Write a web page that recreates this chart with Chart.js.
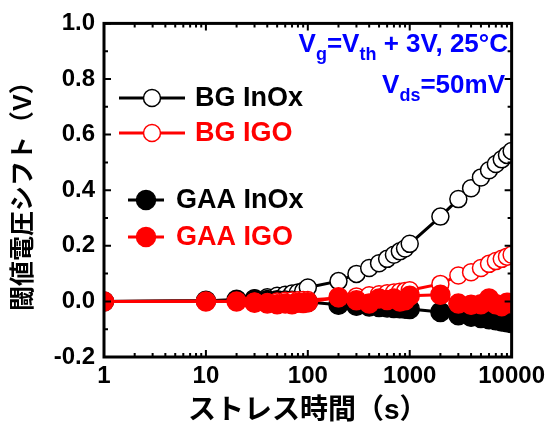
<!DOCTYPE html>
<html>
<head>
<meta charset="utf-8">
<script src="https://cdn.jsdelivr.net/npm/chart.js@4"></script>
<style>
  body { margin: 0; background: #fff; }
  canvas { display: block; }
</style>
</head>
<body>
<canvas id="myChart" width="550" height="430"></canvas>
<script>
// stress time (s)
const times = [1, 10, 20, 30, 40, 50, 60, 70, 80, 90, 100,
  200, 300, 400, 500, 600, 700, 800, 900, 1000,
  2000, 3000, 4000, 5000, 6000, 7000, 8000, 9000, 10000];

// threshold voltage shift (V)
const bgInOx = [0, 0.002, 0.005, 0.01, 0.015, 0.02, 0.024, 0.028, 0.032, 0.037, 0.05,
  0.073, 0.099, 0.12, 0.137, 0.153, 0.168, 0.18, 0.19, 0.207,
  0.305, 0.368, 0.407, 0.446, 0.472, 0.494, 0.511, 0.527, 0.541];
const bgIgo = [0, 0.001, 0, 0, -0.002, 0, 0.002, 0.003, 0.004, 0.005, 0.005,
  0.012, 0.018, 0.022, 0.026, 0.029, 0.032, 0.035, 0.037, 0.04,
  0.063, 0.093, 0.105, 0.12, 0.135, 0.145, 0.153, 0.161, 0.168];
const gaaInOx = [0, 0.002, 0.006, 0.008, 0.005, 0.004, 0.003, 0.002, 0, 0, -0.002,
  -0.012, -0.016, -0.018, -0.02, -0.022, -0.024, -0.025, -0.026, -0.027,
  -0.038, -0.05, -0.055, -0.06, -0.064, -0.068, -0.072, -0.075, -0.078];
const gaaIgo = [0, 0, 0, -0.005, -0.008, -0.01, -0.008, -0.01, -0.005, -0.006, -0.003,
  0.015, 0.004, -0.008, 0.01, 0.005, 0.01, 0, 0.004, 0.02,
  0.024, -0.008, -0.012, -0.01, 0.01, -0.01, -0.017, -0.005, -0.008];

const xTicks = [1, 10, 100, 1000, 10000];
const yTicks = [-0.2, 0, 0.2, 0.4, 0.6, 0.8, 1.0];

const FONT = "'Liberation Sans', Arial, 'Noto Sans CJK JP', sans-serif";

function pts(vals) {
  return times.map((t, i) => ({x: t, y: vals[i]}));
}

function series(label, vals, color, filled, order) {
  return {
    label: label,
    data: pts(vals),
    borderColor: color,
    borderWidth: 3,
    pointRadius: filled ? 9.5 : 8.5,
    pointBorderWidth: 1.5,
    pointBorderColor: color,
    pointBackgroundColor: filled ? color : '#fff',
    clip: 0,
    order: order
  };
}

const datasets = [
  series('BG InOx', bgInOx, '#000', false, 3),
  series('BG IGO', bgIgo, '#ff0000', false, 1),
  series('GAA InOx', gaaInOx, '#000', true, 2),
  series('GAA IGO', gaaIgo, '#ff0000', true, 0)
];

// legend layout: [dataset index, line x0, line x1, y, text x]
const legendRows = [
  [0, 119, 185, 98, 195],
  [1, 119, 185, 133, 195],
  [2, 128, 164, 200, 176],
  [3, 128, 164, 237, 176]
];

// frame with inward ticks on all sides
const framePlugin = {
  id: 'frame',
  afterDatasetsDraw(chart) {
    const ctx = chart.ctx;
    const a = chart.chartArea;
    const xs = chart.scales.x, ys = chart.scales.y;
    ctx.save();
    ctx.strokeStyle = '#000';
    ctx.lineWidth = 2;
    for (let d = 1; d <= 10000; d *= 10) {
      for (let m = 1; m < 10; m++) {
        const v = d * m;
        if (v > 10000) break;
        const px = xs.getPixelForValue(v);
        const len = m === 1 ? 7 : 4;
        ctx.beginPath();
        ctx.moveTo(px, a.bottom); ctx.lineTo(px, a.bottom - len);
        ctx.moveTo(px, a.top); ctx.lineTo(px, a.top + len);
        ctx.stroke();
      }
    }
    for (let i = -2; i <= 10; i++) {
      const py = ys.getPixelForValue(i / 10);
      const len = i % 2 === 0 ? 7 : 4;
      ctx.beginPath();
      ctx.moveTo(a.left, py); ctx.lineTo(a.left + len, py);
      ctx.moveTo(a.right, py); ctx.lineTo(a.right - len, py);
      ctx.stroke();
    }
    ctx.lineWidth = 3;
    ctx.strokeRect(a.left, a.top, a.right - a.left, a.bottom - a.top);
    ctx.restore();
  }
};

function drawRich(ctx, parts, right, baseline) {
  let total = 0;
  parts.forEach(p => {
    ctx.font = 'bold ' + (p[1] ? 18 : 26) + 'px ' + FONT;
    total += ctx.measureText(p[0]).width;
  });
  let x = right - total;
  parts.forEach(p => {
    ctx.font = 'bold ' + (p[1] ? 18 : 26) + 'px ' + FONT;
    ctx.fillText(p[0], x, baseline + (p[1] ? 8 : 0));
    x += ctx.measureText(p[0]).width;
  });
}

const labelPlugin = {
  id: 'labels',
  afterDraw(chart) {
    const ctx = chart.ctx;
    ctx.save();
    // legend
    legendRows.forEach(r => {
      const ds = chart.data.datasets[r[0]];
      ctx.strokeStyle = ds.borderColor;
      ctx.lineWidth = 3;
      ctx.beginPath();
      ctx.moveTo(r[1], r[3]); ctx.lineTo(r[2], r[3]);
      ctx.stroke();
      ctx.beginPath();
      ctx.arc((r[1] + r[2]) / 2, r[3], ds.pointRadius, 0, Math.PI * 2);
      ctx.fillStyle = ds.pointBackgroundColor;
      ctx.fill();
      ctx.lineWidth = 1.5;
      ctx.stroke();
      ctx.fillStyle = ds.borderColor;
      ctx.font = 'bold 27px ' + FONT;
      ctx.textBaseline = 'middle';
      ctx.fillText(ds.label, r[4], r[3] + 1);
    });
    // conditions
    ctx.textBaseline = 'alphabetic';
    ctx.fillStyle = '#0000ff';
    drawRich(ctx, [['V', 0], ['g', 1], ['=V', 0], ['th', 1], [' + 3V, 25°C', 0]], 508, 52);
    drawRich(ctx, [['V', 0], ['ds', 1], ['=50mV', 0]], 505, 93);
    ctx.restore();
  }
};

new Chart('myChart', {
  type: 'line',
  data: { datasets: datasets },
  options: {
    responsive: false,
    animation: false,
    devicePixelRatio: 1,
    layout: { padding: { top: 22, right: 35, left: 0, bottom: 0 } },
    plugins: { legend: { display: false }, tooltip: { enabled: false } },
    scales: {
      x: {
        type: 'logarithmic',
        min: 1,
        max: 10000,
        afterBuildTicks: s => { s.ticks = xTicks.map(v => ({value: v})); },
        afterFit: s => { s.height = 73; },
        grid: { display: false, drawTicks: false },
        border: { display: false },
        ticks: {
          autoSkip: false,
          maxRotation: 0,
          padding: 5,
          color: '#000',
          font: { family: FONT, size: 24, weight: 'bold' },
          callback: v => String(v)
        },
        title: {
          display: true,
          text: 'ストレス時間（s）',
          color: '#000',
          font: { family: FONT, size: 28, weight: 'bold' },
          padding: { top: 0, bottom: 2 }
        }
      },
      y: {
        min: -0.2,
        max: 1.0,
        afterBuildTicks: s => { s.ticks = yTicks.map(v => ({value: v})); },
        afterFit: s => { s.width = 104; },
        grid: { display: false, drawTicks: false },
        border: { display: false },
        ticks: {
          padding: 9,
          color: '#000',
          font: { family: FONT, size: 24, weight: 'bold' },
          callback: v => v.toFixed(1)
        },
        title: {
          display: true,
          text: '閾値電圧シフト（V）',
          color: '#000',
          font: { family: FONT, size: 25, weight: 'bold' },
          padding: { top: 9, bottom: 0 }
        }
      }
    }
  },
  plugins: [framePlugin, labelPlugin]
});
</script>
</body>
</html>
